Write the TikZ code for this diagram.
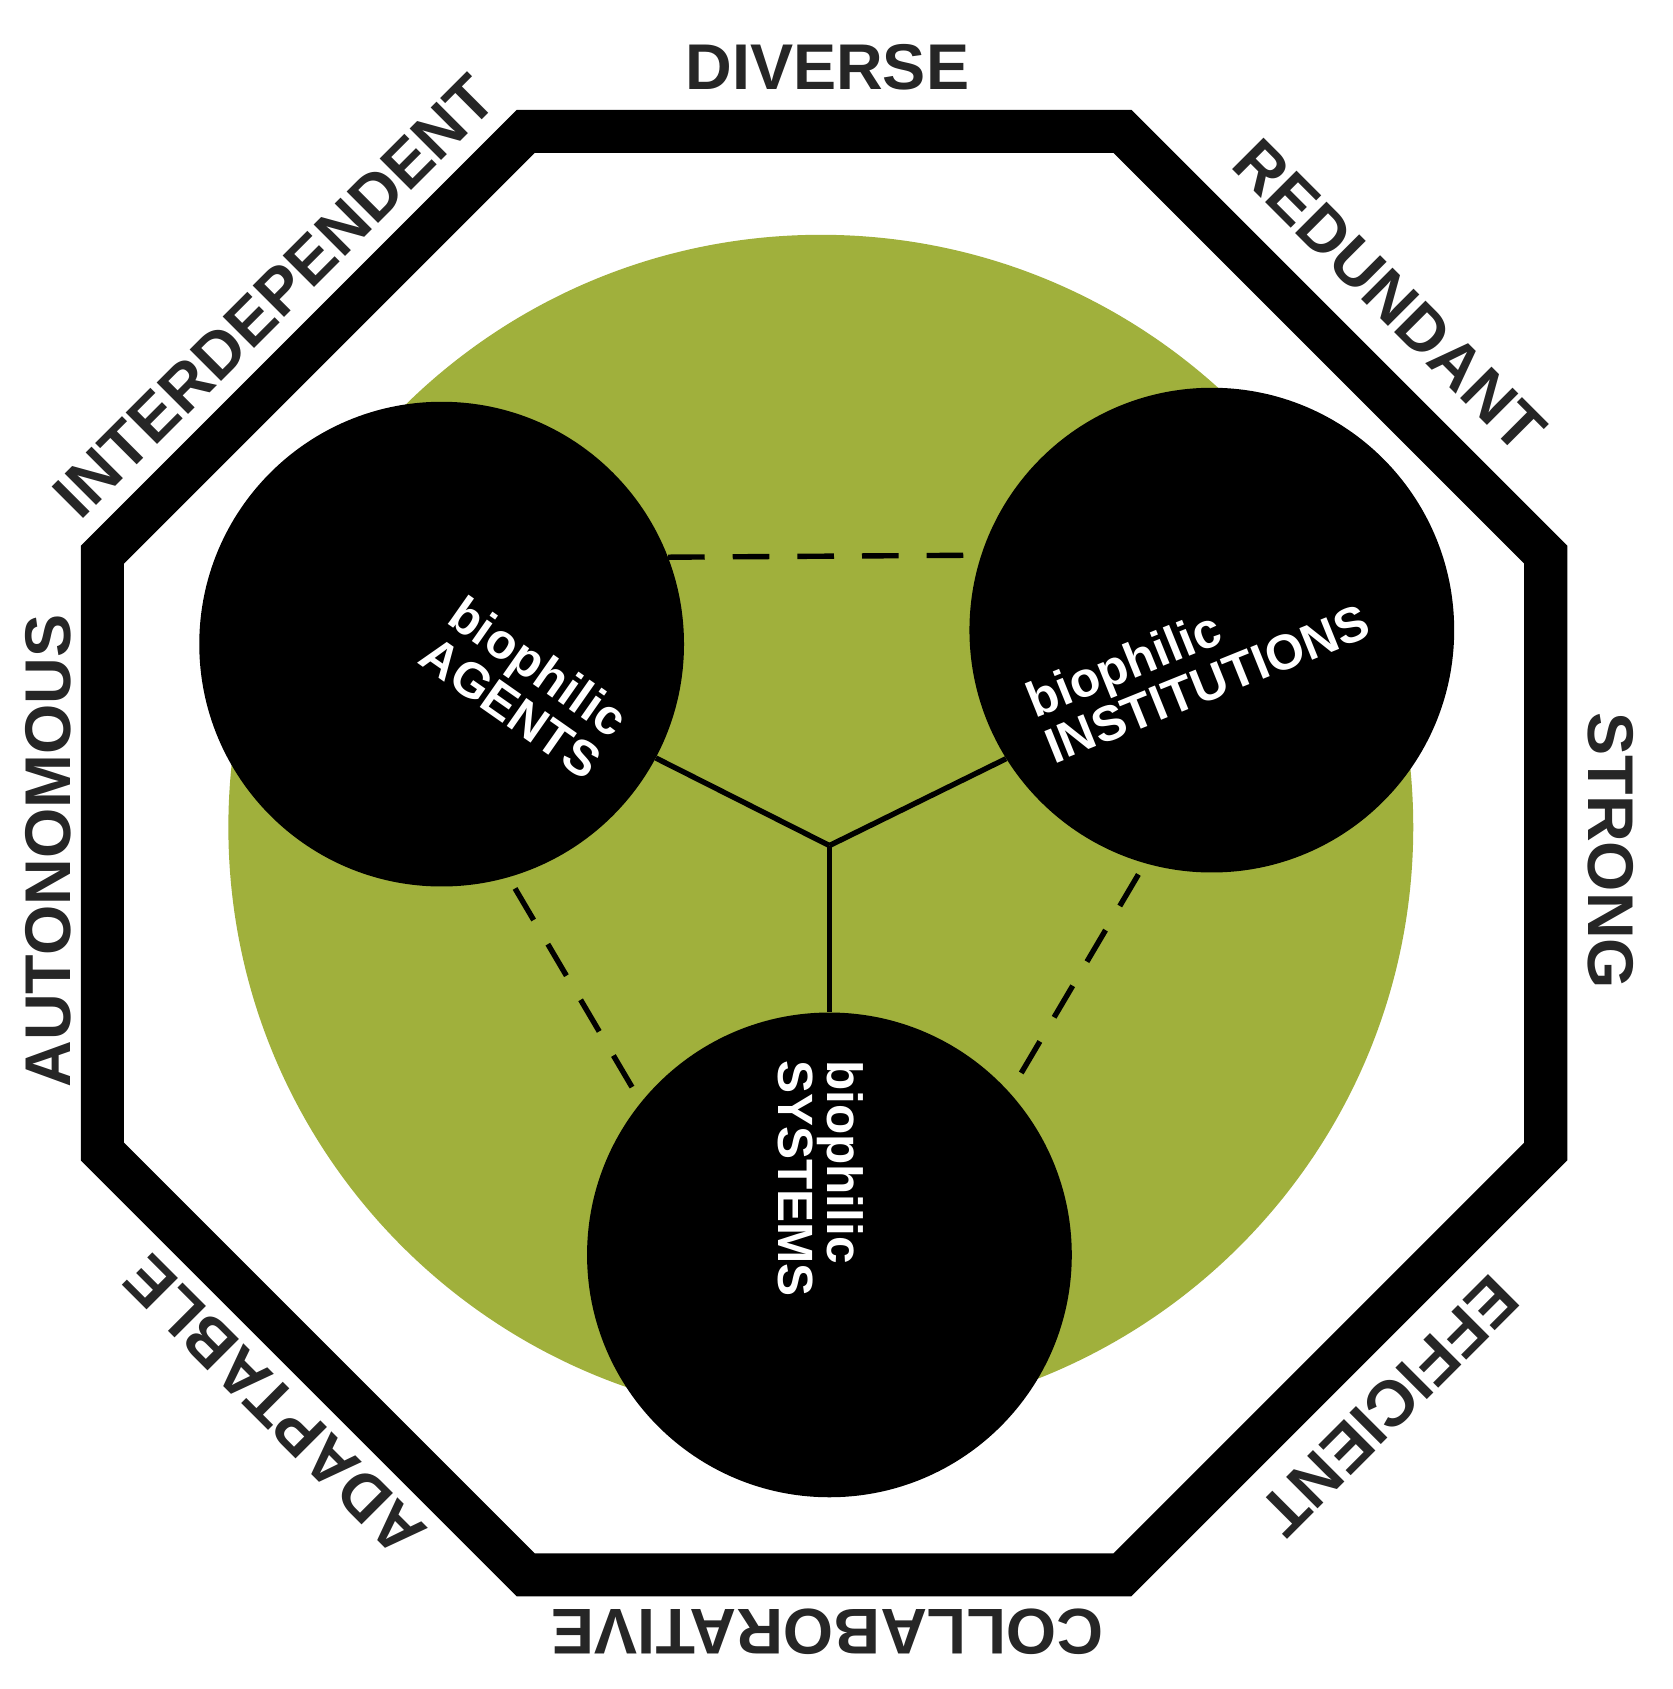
\documentclass[tikz,border=0pt]{standalone}
\usepackage{fontspec}
\setmainfont{Liberation Sans}
\begin{document}
\begin{tikzpicture}[x=1pt,y=1pt,
  lab/.style={font=\fontsize{60}{60}\selectfont\bfseries, text=black!85, inner sep=0},
  inlab/.style={font=\fontsize{46}{46}\selectfont\bfseries, text=white, align=left, inner sep=0},
  disc/.style={circle, fill=black, minimum size=450pt, inner sep=0},
  dashc/.style={line width=5pt, dash pattern=on 34pt off 26pt},
  solidc/.style={line width=5pt}]
\useasboundingbox (0,0) rectangle (1553,1568);
\fill[white] (0,0) rectangle (1553,1568);
\draw[line width=40pt, line join=miter] (488,1446)--(1042,1446)--(1435,1053)--(1435,499)--(1042,106)--(488,106)--(95,499)--(95,1053)--cycle;
\fill[fill={rgb,255:red,160;green,176;blue,60}] (762,800) circle (550);
\node[disc] (A) at (410,970) {};
\node[disc] (I) at (1125,983) {};
\node[disc] (S) at (770,403) {};
\coordinate (J) at (770,783);
\draw[solidc] (J) -- (A.-28);
\draw[solidc] (J) -- (I.212);
\draw[solidc] (J) -- (S.north);
\draw[dashc] (A.21) -- (I.162);
\draw[dashc, shorten <=12pt, shorten >=12pt] (A.-74) -- (S.141);
\draw[dashc, shorten <=12pt, shorten >=12pt] (I.-106) -- (S.42);
\node[inlab, rotate=-35] (ta) at (488,930) {biophilic\\AGENTS};
\node[inlab, rotate=22] (ti) at (1112,955) {biophilic\\INSTITUTIONS};
\node[inlab, rotate=-90] (ts) at (762,474) {biophilic\\SYSTEMS};
\node[lab] (l1) at (768,1506) {DIVERSE};
\node[lab, rotate=-45] (l2) at (1290,1293) {REDUNDANT};
\node[lab, rotate=-90] (l3) at (1495,778) {STRONG};
\node[lab, rotate=-135] (l4) at (1290,263) {EFFICIENT};
\node[lab, rotate=180] (l5) at (768,53) {COLLABORATIVE};
\node[lab, rotate=135] (l6) at (255,263) {ADAPTABLE};
\node[lab, rotate=90] (l7) at (45,778) {AUTONOMOUS};
\node[lab, rotate=45] (l8) at (255,1293) {INTERDEPENDENT};
\end{tikzpicture}
\end{document}
